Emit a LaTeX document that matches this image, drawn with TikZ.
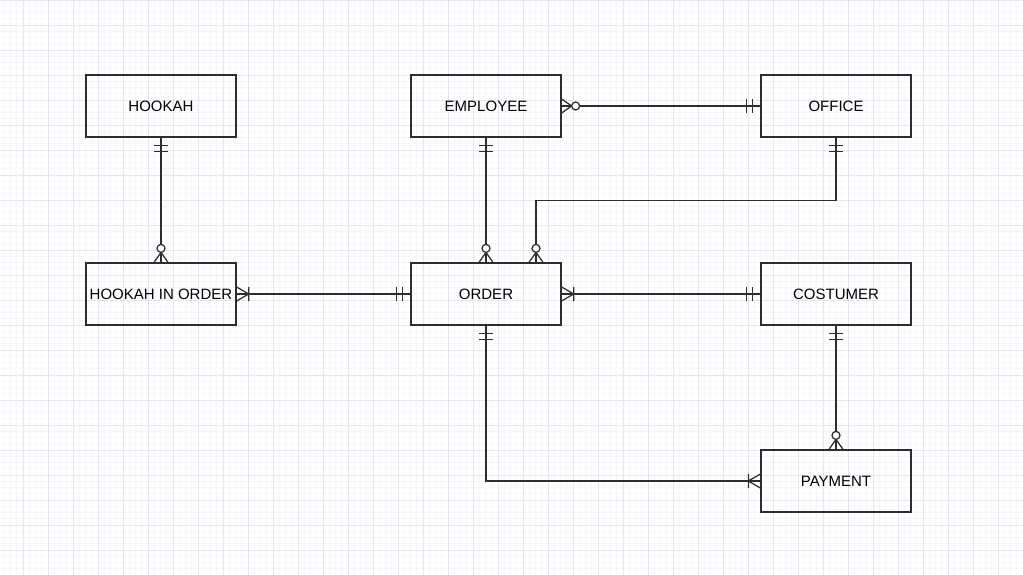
\documentclass[tikz,border=0pt]{standalone}
\usepackage{fontspec}
\setmainfont{Liberation Sans}

\definecolor{gridminor}{RGB}{247,247,251}
\definecolor{gridmajor}{RGB}{230,230,240}
\definecolor{erline}{RGB}{45,45,45}

% crow's foot tips
\pgfdeclarearrow{
  name = onlyone,
  setup code = {
    \pgfarrowssettipend{0pt}
    \pgfarrowssetlineend{0pt}
    \pgfarrowssetbackend{-15pt}
    \pgfarrowssetvisualbackend{-15pt}
    \pgfarrowshullpoint{0pt}{7pt}
    \pgfarrowshullpoint{0pt}{-7pt}
    \pgfarrowshullpoint{-15pt}{7pt}
    \pgfarrowshullpoint{-15pt}{-7pt}
  },
  drawing code = {
    \pgfsetlinewidth{1.25pt}
    \pgfsetdash{}{0pt}
    \pgfpathmoveto{\pgfpoint{-8pt}{7pt}}\pgfpathlineto{\pgfpoint{-8pt}{-7pt}}
    \pgfpathmoveto{\pgfpoint{-14pt}{7pt}}\pgfpathlineto{\pgfpoint{-14pt}{-7pt}}
    \pgfusepathqstroke
  }
}
\pgfdeclarearrow{
  name = zeromany,
  setup code = {
    \pgfarrowssettipend{0pt}
    \pgfarrowssetlineend{0pt}
    \pgfarrowssetbackend{-18pt}
    \pgfarrowssetvisualbackend{-18pt}
    \pgfarrowshullpoint{0pt}{7pt}
    \pgfarrowshullpoint{0pt}{-7pt}
    \pgfarrowshullpoint{-18pt}{4pt}
    \pgfarrowshullpoint{-18pt}{-4pt}
  },
  drawing code = {
    \pgfsetlinewidth{1.25pt}
    \pgfsetdash{}{0pt}
    \pgfpathmoveto{\pgfpoint{0pt}{7pt}}\pgfpathlineto{\pgfpoint{-10pt}{0pt}}
    \pgfpathlineto{\pgfpoint{0pt}{-7pt}}
    \pgfusepathqstroke
    \pgfsetfillcolor{white}
    \pgfpathcircle{\pgfpoint{-14pt}{0pt}}{4pt}
    \pgfusepathqfillstroke
  }
}
\pgfdeclarearrow{
  name = onemany,
  setup code = {
    \pgfarrowssettipend{0pt}
    \pgfarrowssetlineend{0pt}
    \pgfarrowssetbackend{-13pt}
    \pgfarrowssetvisualbackend{-13pt}
    \pgfarrowshullpoint{0pt}{7pt}
    \pgfarrowshullpoint{0pt}{-7pt}
    \pgfarrowshullpoint{-13pt}{7pt}
    \pgfarrowshullpoint{-13pt}{-7pt}
  },
  drawing code = {
    \pgfsetlinewidth{1.25pt}
    \pgfsetdash{}{0pt}
    \pgfpathmoveto{\pgfpoint{0pt}{7pt}}\pgfpathlineto{\pgfpoint{-12pt}{0pt}}
    \pgfpathlineto{\pgfpoint{0pt}{-7pt}}
    \pgfpathmoveto{\pgfpoint{-12pt}{7pt}}\pgfpathlineto{\pgfpoint{-12pt}{-7pt}}
    \pgfusepathqstroke
  }
}

\tikzset{
  entity/.style={draw=erline, line width=1.25pt, minimum width=150pt,
    minimum height=62pt, inner sep=0pt, font=\fontsize{15}{18}\selectfont},
  rel/.style={draw=erline, line width=1.25pt},
}

\begin{document}
\begin{tikzpicture}[x=1pt,y=-1pt]
  \fill[white] (0,0) rectangle (1023,575);
  \useasboundingbox (0,0) rectangle (1023,575);
  % background grid
  \foreach \k in {0,...,164}
    \draw[gridminor, line width=0.6pt] (\k*6.25-2,0) -- (\k*6.25-2,575);
  \foreach \k in {0,...,92}
    \draw[gridminor, line width=0.6pt] (0,\k*6.25) -- (1023,\k*6.25);
  \foreach \k in {0,...,41}
    \draw[gridmajor, line width=0.8pt] (\k*25-2,0) -- (\k*25-2,575);
  \foreach \k in {0,...,23}
    \draw[gridmajor, line width=0.8pt] (0,\k*25) -- (1023,\k*25);
  % entities
  \node[entity] (hookah)      at (161,106) {HOOKAH};
  \node[entity] (employee)    at (486,106) {EMPLOYEE};
  \node[entity] (office)      at (836,106) {OFFICE};
  \node[entity] (hookahorder) at (161,294) {HOOKAH IN ORDER};
  \node[entity] (order)       at (486,294) {ORDER};
  \node[entity] (costumer)    at (836,294) {COSTUMER};
  \node[entity] (payment)     at (836,481) {PAYMENT};
  % relations
  \draw[rel, onlyone-zeromany] (hookah) -- (hookahorder);
  \draw[rel, onlyone-zeromany] (employee) -- (order);
  \draw[rel, onlyone-zeromany] (office.south) -- ++(0,63) -| ([xshift=50pt]order.north);
  \draw[rel, zeromany-onlyone] (employee) -- (office);
  \draw[rel, onemany-onlyone] (hookahorder) -- (order);
  \draw[rel, onemany-onlyone] (order) -- (costumer);
  \draw[rel, onlyone-zeromany] (costumer) -- (payment);
  \draw[rel, onlyone-onemany] (order.south) |- (payment.west);
\end{tikzpicture}
\end{document}
